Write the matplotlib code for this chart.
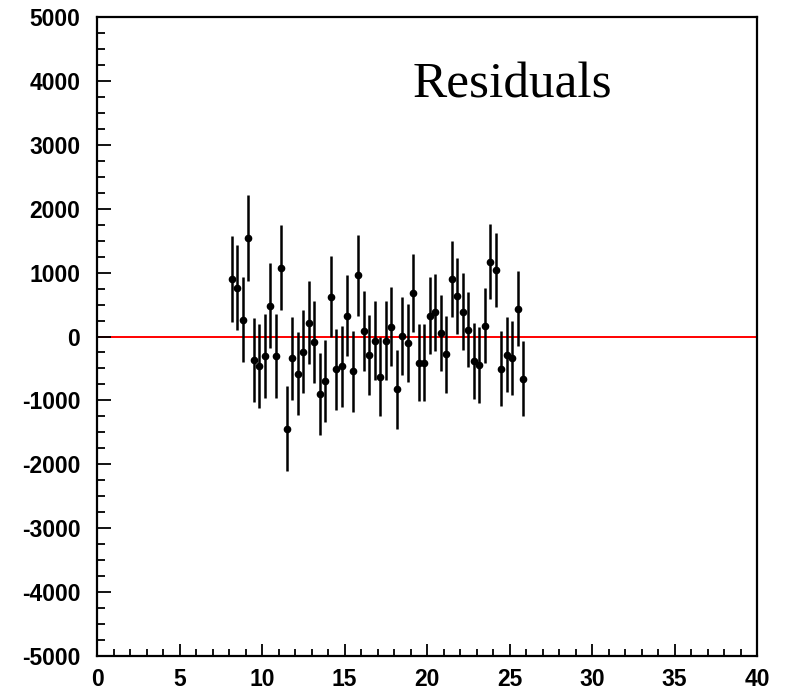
import matplotlib
matplotlib.use("Agg")
import matplotlib.pyplot as plt
from matplotlib.ticker import MultipleLocator

plt.rcParams["axes.unicode_minus"] = False

x = [8.17, 8.50, 8.83, 9.17, 9.50, 9.83, 10.17, 10.50, 10.83, 11.17,
     11.50, 11.83, 12.17, 12.50, 12.83, 13.17, 13.50, 13.83, 14.17, 14.50,
     14.83, 15.17, 15.50, 15.83, 16.17, 16.50, 16.83, 17.17, 17.50, 17.83,
     18.17, 18.50, 18.83, 19.17, 19.50, 19.83, 20.17, 20.50, 20.83, 21.17,
     21.50, 21.83, 22.17, 22.50, 22.83, 23.17, 23.50, 23.83, 24.17, 24.50,
     24.83, 25.17, 25.50, 25.83]
residuals = [906, 766, 266, 1542, -370, -458, -307, 484, -307, 1078,
             -1443, -339, -583, -240, 219, -83, -901, -698, 625, -516,
             -464, 328, -542, 958, 83, -286, -63, -630, -68, 156,
             -828, 5, -99, 682, -411, -411, 323, 380, 57, -281,
             896, 630, 391, 109, -380, -443, 172, 1172, 1042, -505,
             -286, -339, 438, -661]
errors = [672, 669, 672, 674, 660, 660, 660, 660, 660, 660,
          667, 650, 650, 650, 650, 645, 645, 640, 640, 640,
          635, 635, 635, 630, 630, 630, 625, 620, 618, 615,
          612, 610, 608, 609, 605, 605, 603, 600, 600, 598,
          596, 598, 595, 593, 592, 590, 590, 585, 585, 585,
          585, 584, 583, 583]
x_ticks = [0, 5, 10, 15, 20, 25, 30, 35, 40]
y_ticks = [-5000, -4000, -3000, -2000, -1000, 0, 1000, 2000, 3000, 4000, 5000]

fig = plt.figure(figsize=(7.85, 6.90), dpi=100)
ax = fig.add_axes([97/785, 1 - 656/690, (757 - 97)/785, (656 - 17)/690])

ax.axhline(0, color="#ff0000", lw=1.4, zorder=1)
ax.errorbar(x, residuals, yerr=errors, fmt="o", color="black", ms=4.5,
            elinewidth=1.8, capsize=0, zorder=3)

ax.set_xlim(0, 40)
ax.set_ylim(-5000, 5000)
ax.set_xticks(x_ticks)
ax.set_yticks(y_ticks)
ax.xaxis.set_minor_locator(MultipleLocator(1))
ax.yaxis.set_minor_locator(MultipleLocator(250))

for s in ax.spines.values():
    s.set_linewidth(1.6)

ax.tick_params(axis="x", which="major", direction="in", length=9, width=1.3, pad=9)
ax.tick_params(axis="x", which="minor", direction="in", length=5, width=1.3)
ax.tick_params(axis="y", which="major", direction="in", length=10, width=1.3, pad=12)
ax.tick_params(axis="y", which="minor", direction="in", length=6, width=1.3)

for lab in ax.get_xticklabels() + ax.get_yticklabels():
    lab.set_fontfamily("Liberation Sans")
    lab.set_fontweight("bold")
    lab.set_fontsize(16.5)

ax.text(0.629, 0.8737, "Residuals", transform=ax.transAxes,
        fontfamily="Liberation Serif", fontsize=37, ha="center", va="baseline")

fig.savefig("out.png", dpi=100)
